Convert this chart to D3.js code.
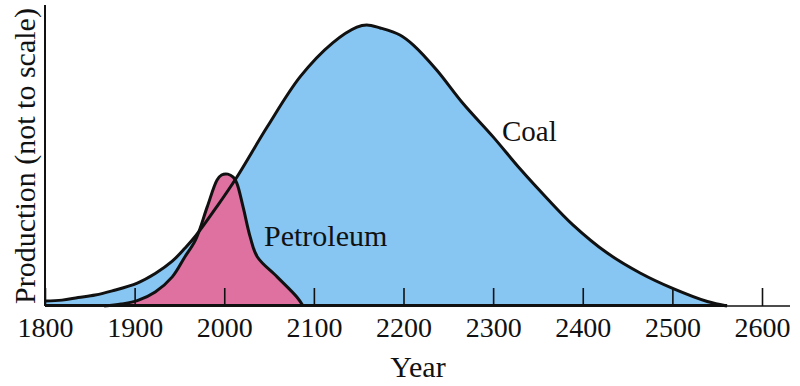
<!DOCTYPE html>
<html>
<head>
<meta charset="utf-8">
<script src="https://cdn.jsdelivr.net/npm/d3@7"></script>
<style>
  body { margin: 0; background: #fff; }
  text { font-family: "Liberation Serif", "Times New Roman", serif; fill: #111; }
</style>
</head>
<body>
<svg id="chart" width="800" height="386"></svg>
<script>
// values (production, arbitrary units, peak of coal ~100)
const coalYears  = [1800, 1819, 1837, 1856, 1875, 1903, 1923, 1942, 1956, 1968, 1992, 2014, 2048, 2085, 2121, 2148, 2159, 2174, 2196, 2211, 2237, 2266, 2300, 2330, 2360, 2389, 2427, 2464, 2501, 2539, 2561]
const coalValues = [1.8, 2.1, 3.0, 3.9, 5.4, 8.2, 11.6, 16, 20.6, 25, 35.6, 46, 64, 82, 94, 99.6, 100.4, 99.3, 96.8, 93.2, 84.3, 72.5, 60.4, 49, 38.5, 29, 19, 11.8, 6.2, 1.6, 0]

const petroYears  = [1866, 1885, 1903, 1923, 1942, 1956, 1968, 1981, 1992, 1997, 2004, 2010, 2014, 2021, 2029, 2037, 2059, 2081, 2088]
const petroValues = [0, 0.7, 1.9, 5, 10.4, 17.5, 23.6, 35.4, 45, 46.8, 47.1, 46, 43.9, 35.4, 24.6, 17.5, 10.4, 3.2, 0]

const tickYears = [1800, 1900, 2000, 2100, 2200, 2300, 2400, 2500, 2600]

const svg = d3.select("#chart")

let x = d3.scaleLinear().domain([1800, 2600]).range([45, 762])
let y = d3.scaleLinear().domain([0, 100]).range([306, 26])

function series(years, values) {
  return years.map((yr, i) => ({year: yr, value: values[i]}))
}
let coal = series(coalYears, coalValues)
let petro = series(petroYears, petroValues)

let area_gen = d3.area()
  .x(d => x(d.year))
  .y0(y(0))
  .y1(d => Math.min(y(0), y(d.value)))
  .curve(d3.curveCatmullRom.alpha(0.5))
let line_gen = d3.line()
  .x(d => x(d.year))
  .y(d => y(d.value))
  .curve(d3.curveCatmullRom.alpha(0.5))

// fills first, outlines on top of both
svg.append("path").attr("d", area_gen(coal)).attr("fill", "#87c5f2")
svg.append("path").attr("d", area_gen(petro)).attr("fill", "#df71a1")

// x axis with ticks pointing up
let xAxis = d3.axisBottom(x)
  .tickValues(tickYears)
  .tickFormat(d3.format("d"))
  .tickSizeInner(-18)
  .tickSizeOuter(0)
  .tickPadding(11)
let gx = svg.append("g")
  .attr("transform", `translate(0, ${y(0)})`)
  .call(xAxis)
gx.select(".domain").remove()
gx.selectAll(".tick line").attr("stroke", "#111").attr("stroke-width", 1.6)
gx.selectAll(".tick text")
  .attr("font-size", 28)
  .attr("font-family", "Liberation Serif")
  .attr("fill", "#111")

// axis lines
svg.append("line")
  .attr("x1", x(1800)).attr("x2", 790)
  .attr("y1", y(0)).attr("y2", y(0))
  .attr("stroke", "#111").attr("stroke-width", 1.6)
svg.append("line")
  .attr("x1", x(1800)).attr("x2", x(1800))
  .attr("y1", 5).attr("y2", y(0))
  .attr("stroke", "#111").attr("stroke-width", 2)
// bottom edge of the coal area
svg.append("line")
  .attr("x1", x(1800)).attr("x2", x(d3.max(coalYears)))
  .attr("y1", y(0) - 0.5).attr("y2", y(0) - 0.5)
  .attr("stroke", "#111").attr("stroke-width", 3)

svg.append("path").attr("d", line_gen(coal))
  .attr("fill", "none").attr("stroke", "#111").attr("stroke-width", 3)
svg.append("path").attr("d", line_gen(petro))
  .attr("fill", "none").attr("stroke", "#111").attr("stroke-width", 3)

// labels
svg.append("text").attr("x", 264).attr("y", 246).attr("font-size", 30).text("Petroleum")
svg.append("text").attr("x", 502).attr("y", 141).attr("font-size", 29).text("Coal")
svg.append("text").attr("x", 418).attr("y", 377).attr("font-size", 30)
  .attr("text-anchor", "middle").text("Year")
svg.append("text")
  .attr("transform", "translate(35, 156) rotate(-90)")
  .attr("text-anchor", "middle")
  .attr("font-size", 30)
  .text("Production (not to scale)")
</script>
</body>
</html>
